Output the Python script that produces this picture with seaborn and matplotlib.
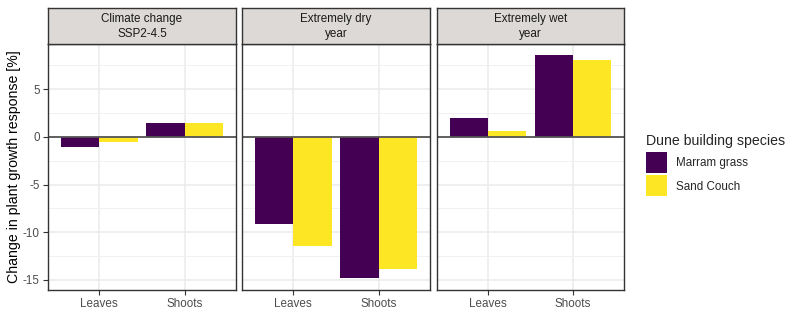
import matplotlib
matplotlib.use("Agg")
import matplotlib.pyplot as plt
import matplotlib.patches as mpatches
import seaborn as sns
import pandas as pd
import numpy as np

# ---- data ----
scenarios = ["Climate change\nSSP2-4.5", "Extremely dry\nyear", "Extremely wet\nyear"]
parts = ["Leaves", "Shoots"]
species = ["Marram grass", "Sand Couch"]
marram_leaves = [-1.02, -9.09, 1.96]
couch_leaves = [-0.53, -11.5, 0.63]
marram_shoots = [1.44, -14.84, 8.63]
couch_shoots = [1.45, -13.86, 8.07]
yticks = [-15, -10, -5, 0, 5]
colors = ["#440154", "#FDE725"]

rows = []
for i, sc in enumerate(scenarios):
    rows.append((sc, "Leaves", "Marram grass", marram_leaves[i]))
    rows.append((sc, "Leaves", "Sand Couch", couch_leaves[i]))
    rows.append((sc, "Shoots", "Marram grass", marram_shoots[i]))
    rows.append((sc, "Shoots", "Sand Couch", couch_shoots[i]))
df = pd.DataFrame(rows, columns=["scenario", "part", "species", "value"])

sns.set_theme(style="white")
plt.rcParams["font.family"] = ["Liberation Sans", "DejaVu Sans"]

W, H = 800, 333
fig = plt.figure(figsize=(W / 100, H / 100), dpi=100)

panels_x = [(48, 236), (242, 430), (437, 624)]
ptop, pbot = 43.5, 289.5
stop = 7.5

vmin = min(df.value.min(), 0)
vmax = max(df.value.max(), 0)
rng = vmax - vmin
ylim = (vmin - 0.05 * rng, vmax + 0.05 * rng)

border = "#333333"
for i, (sc, (x0, x1)) in enumerate(zip(scenarios, panels_x)):
    ax = fig.add_axes([x0 / W, (H - pbot) / H, (x1 - x0) / W, (pbot - ptop) / H])
    sub = df[df.scenario == sc]
    sns.barplot(data=sub, x="part", y="value", hue="species", order=parts,
                hue_order=species, palette=colors, saturation=1, width=0.9,
                gap=0, errorbar=None, legend=False, ax=ax, linewidth=0)
    ax.set_xlim(-0.6, 1.6)
    ax.set_ylim(*ylim)
    ax.set_axisbelow(True)
    ax.set_yticks(yticks)
    ax.set_yticks(np.arange(-15, 10, 2.5), minor=True)
    ax.grid(True, which="major", color="#EBEBEB", linewidth=1.1)
    ax.grid(True, which="minor", axis="y", color="#EFEFEF", linewidth=0.6)
    ax.axhline(0, color="#555555", linewidth=1.3, zorder=5)
    for s in ax.spines.values():
        s.set_color(border)
        s.set_linewidth(1.0)
        s.set_zorder(6)
    ax.set_xlabel("")
    ax.set_ylabel("")
    ax.tick_params(axis="x", which="major", length=3.5, width=0.8, color=border,
                   labelsize=8.4, labelcolor="#4D4D4D", pad=2.5, bottom=True)
    ax.tick_params(axis="y", which="minor", length=0, left=False)
    if i == 0:
        ax.tick_params(axis="y", which="major", length=3.5, width=0.8, color=border,
                       labelsize=8.4, labelcolor="#4D4D4D", pad=2.5, left=True)
        ax.set_yticklabels([str(t) for t in yticks])
        ax.set_ylabel("Change in plant growth response [%]", fontsize=10.2,
                      color="black", labelpad=1)
    else:
        ax.tick_params(axis="y", which="major", length=0, left=False, labelleft=False)

    # strip
    sax = fig.add_axes([x0 / W, (H - ptop) / H, (x1 - x0) / W, (ptop - stop) / H])
    sax.set_facecolor("#DCD9D6")
    sax.set_xticks([])
    sax.set_yticks([])
    for s in sax.spines.values():
        s.set_color(border)
        s.set_linewidth(1.0)
    sax.text(0.5, 0.47, sc, ha="center", va="center", fontsize=8.4,
             color="#1A1A1A", linespacing=1.25, transform=sax.transAxes)

handles = [mpatches.Patch(facecolor=c, edgecolor="none", label=s)
           for c, s in zip(colors, species)]
leg = fig.legend(handles=handles, title="Dune building species",
                 loc="upper left", bbox_to_anchor=(646 / W, (H - 134) / H),
                 frameon=False, fontsize=8.4, title_fontsize=10.2,
                 handlelength=1.8, handleheight=2.39, handletextpad=0.75,
                 labelspacing=0.2, borderaxespad=0, borderpad=0.0)
leg._legend_box.align = "left"
leg._legend_box.sep = 3

fig.savefig("out.png", dpi=100, facecolor="white")
